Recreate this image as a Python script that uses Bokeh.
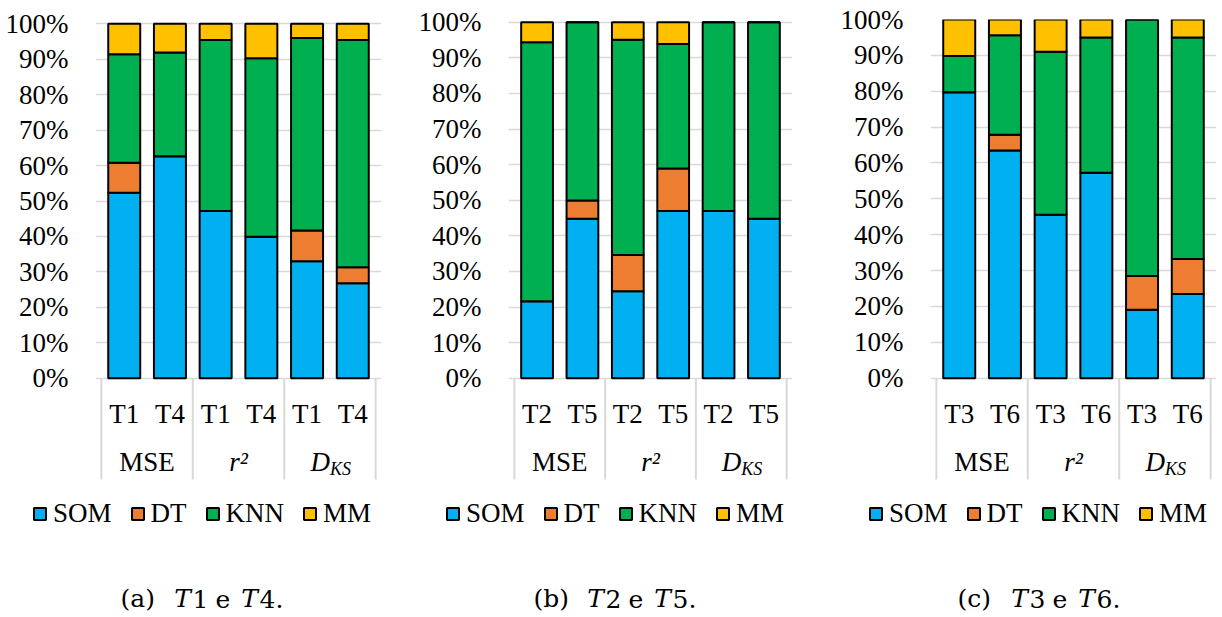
from bokeh.plotting import figure
from bokeh.layouts import row, column
from bokeh.models import (FactorRange, Range1d, FixedTicker, Legend, LegendItem,
                          ColumnDataSource)
from bokeh.core.properties import value
from bokeh.embed import file_html
from bokeh.resources import INLINE

# ---- data (share of each method, %) ----
metrics = ["MSE", "r2", "DKS"]
series = ["SOM", "DT", "KNN", "MM"]
colors = ["#00B0F0", "#ED7D31", "#00B050", "#FFC000"]
ticks = list(range(0, 101, 10))

tests_a = ["T1", "T4"]
som_a = [52.3, 62.6, 47.2, 39.9, 33.0, 26.8]
dt_a = [8.5, 0.0, 0.0, 0.0, 8.7, 4.5]
knn_a = [30.6, 29.3, 48.2, 50.4, 54.3, 64.1]
mm_a = [8.6, 8.1, 4.6, 9.7, 4.0, 4.6]

tests_b = ["T2", "T5"]
som_b = [21.6, 44.8, 24.4, 47.0, 47.0, 44.8]
dt_b = [0.0, 5.1, 10.2, 11.9, 0.0, 0.0]
knn_b = [72.8, 50.1, 60.5, 35.0, 53.0, 55.2]
mm_b = [5.6, 0.0, 4.9, 6.1, 0.0, 0.0]

tests_c = ["T3", "T6"]
som_c = [79.7, 63.5, 45.6, 57.3, 19.1, 23.5]
dt_c = [0.0, 4.4, 0.0, 0.0, 9.4, 9.7]
knn_c = [10.1, 27.7, 45.4, 37.7, 71.5, 61.8]
mm_c = [10.2, 4.4, 9.0, 5.0, 0.0, 5.0]

# ---- layout constants (pixels) ----
H = 617
TOP = 19            # top of every chart frame
Y0 = 377.7          # baseline of the value axis
MAIN_H = 490        # chart part; legend and caption below it
PAD = 3
SERIF = '"Liberation Serif"'
CAP_FONT = '"DejaVu Serif"'
FS = "27px"


def chart(tests, cols, width, gl, gr, y100):
    factors = [(m, t) for m in metrics for t in tests]
    slot = (gr - gl) / 6.0
    x_range = FactorRange(*factors, factor_padding=0, group_padding=0,
                          subgroup_padding=0, range_padding=2 * PAD / slot,
                          range_padding_units="absolute")
    ppu = (Y0 - y100) / 100.0
    y_range = Range1d(-(MAIN_H - Y0) / ppu, 100 + (y100 - TOP) / ppu)

    def yv(py):
        return (Y0 - py) / ppu

    fl = gl - PAD
    fw = gr - gl + 2 * PAD
    p = figure(x_range=x_range, y_range=y_range,
               frame_width=fw, frame_height=MAIN_H - TOP,
               min_border_left=fl, min_border_right=width - fl - fw,
               min_border_top=TOP, min_border_bottom=0,
               output_backend="svg", toolbar_location=None,
               x_axis_location=None, frame_align=False)
    p.outline_line_color = None
    p.xgrid.visible = False

    ax = p.yaxis[0]
    ax.ticker = FixedTicker(ticks=ticks)
    ax.major_label_overrides = {t: f"{t}%" for t in ticks}
    ax.axis_line_color = None
    ax.major_tick_line_color = None
    ax.minor_tick_line_color = None
    ax.major_label_text_font = SERIF
    ax.major_label_text_font_size = FS
    ax.major_label_text_color = "black"
    ax.major_label_standoff = fl - (gl - 24)
    p.ygrid.grid_line_color = "#d9d9d9"
    p.ygrid.grid_line_width = 1.5

    data = dict(x=factors)
    data.update({s: v for s, v in zip(series, cols)})
    src = ColumnDataSource(data)
    p.vbar_stack(series, x="x", width=0.7, source=src,
                 fill_color=colors, line_color="black", line_width=2)

    # category box lines
    edges = [("MSE", -1.0), ("r2", -1.0), ("DKS", -1.0), ("DKS", 1.0)]
    p.segment(x0=edges, y0=[0] * 4, x1=edges, y1=[yv(479)] * 4,
              line_color="#d9d9d9", line_width=2)

    # first level labels
    p.text(x=factors, y=[yv(413)] * 6, text=[t for m in metrics for t in tests],
           text_font=value(SERIF), text_font_size=value(FS),
           text_align="center", text_baseline="middle", text_color="black")
    # second level labels
    p.text(x=["MSE"], y=[yv(461)], text=["MSE"], text_font=value(SERIF),
           text_font_size=value(FS), text_align="center",
           text_baseline="middle", text_color="black")
    p.text(x=["r2"], y=[yv(461)], text=["r\u00b2"], text_font=value(SERIF),
           text_font_size=value(FS), text_font_style="italic",
           text_align="center", text_baseline="middle", text_color="black")
    p.text(x=["DKS"], y=[yv(461)], text=["D"], text_font=value(SERIF),
           text_font_size=value(FS), text_font_style="italic",
           text_align="right", text_baseline="middle", text_color="black")
    p.text(x=["DKS"], y=[yv(468)], text=["KS"], text_font=value(SERIF),
           text_font_size=value("18px"), text_font_style="italic",
           text_align="left", text_baseline="middle", text_color="black")
    return p


def footer(tests, letter, width, legend_x, cap_x):
    f = figure(x_range=Range1d(0, width), y_range=Range1d(H, MAIN_H),
               frame_width=width, frame_height=H - MAIN_H,
               min_border_left=0, min_border_right=0,
               min_border_top=0, min_border_bottom=0,
               output_backend="svg", toolbar_location=None,
               x_axis_location=None, y_axis_location=None, frame_align=False)
    f.outline_line_color = None
    f.xgrid.visible = False
    f.ygrid.visible = False

    # legend keys: one hidden point per series carries the key style
    keys = []
    for s, c in zip(series, colors):
        r = f.rect(x=[float("nan")], y=[float("nan")], width=1, height=1,
                   fill_color=c, line_color="black", line_width=2)
        keys.append(LegendItem(label=s, renderers=[r]))
    legend = Legend(items=keys, orientation="horizontal",
                    location=(legend_x, H - 529),
                    label_text_font=SERIF, label_text_font_size=FS,
                    label_text_color="black", label_height=30,
                    glyph_width=15, glyph_height=15, label_standoff=6,
                    spacing=18, padding=0, margin=0,
                    border_line_color=None, background_fill_alpha=0)
    f.add_layout(legend)

    # caption: (x) Ti e Tj.
    up = [f"({letter})", tests[0][1:], "e", tests[1][1:] + "."]
    up_x = [cap_x, cap_x + 72, cap_x + 95, cap_x + 139]
    f.text(x=up_x, y=[598] * 4, text=up, text_font=value(CAP_FONT),
           text_font_size=value("25px"), text_align="left",
           text_baseline="middle", text_color="black")
    f.text(x=[cap_x + 62, cap_x + 129], y=[598] * 2, text=["T", "T"],
           text_font=value(CAP_FONT), text_font_size=value("25px"),
           text_font_style="italic", text_align="center",
           text_baseline="middle", text_color="black")
    return f


def panel(tests, cols, letter, width, gl, gr, y100, legend_x, cap_x):
    return column(chart(tests, cols, width, gl, gr, y100),
                  footer(tests, letter, width, legend_x, cap_x), spacing=0)


pa = panel(tests_a, [som_a, dt_a, knn_a, mm_a], "a", 400, 98, 378, 23.3, 32, 120)
pb = panel(tests_b, [som_b, dt_b, knn_b, mm_b], "b", 410, 111, 389, 21.7, 45, 133)
pc = panel(tests_c, [som_c, dt_c, knn_c, mm_c], "c", 412, 123, 403, 19.0, 58, 147)

layout = row(pa, pb, pc, spacing=0)
open("out.html", "w").write(file_html(layout, INLINE))
